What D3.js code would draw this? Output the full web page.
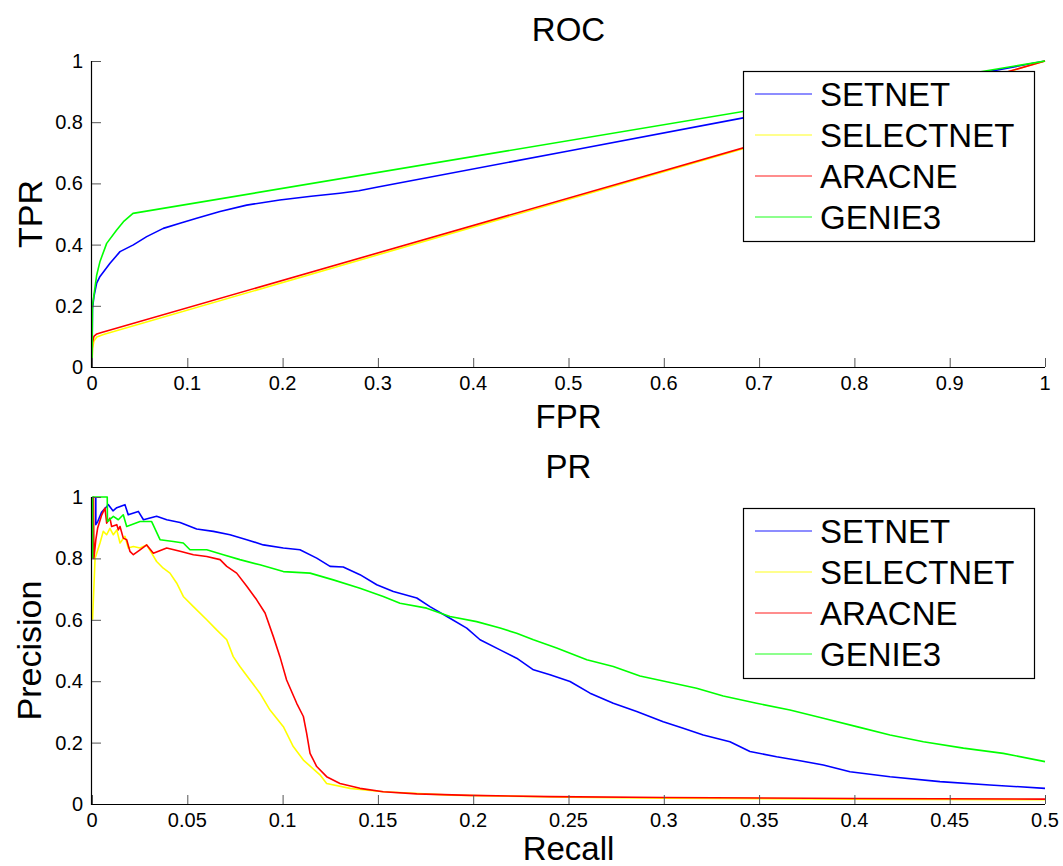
<!DOCTYPE html>
<html>
<head>
<meta charset="utf-8">
<script src="https://cdn.jsdelivr.net/npm/d3@7"></script>
<style>
  html, body { margin: 0; padding: 0; background: #fff; }
  svg { display: block; }
  text { font-family: "Liberation Sans", Arial, Helvetica, sans-serif; fill: #000; }
</style>
</head>
<body>
<svg id="chart" width="1063" height="866"></svg>
<script>
// ---------------- DATA ----------------
const seriesNames = ["SETNET", "SELECTNET", "ARACNE", "GENIE3"];
const seriesColors = ["#0000ff", "#ffff00", "#ff0000", "#00ff00"];

const rocTicksX = [0, 0.1, 0.2, 0.3, 0.4, 0.5, 0.6, 0.7, 0.8, 0.9, 1];
const rocTicksY = [0, 0.2, 0.4, 0.6, 0.8, 1];
const prTicksX = [0, 0.05, 0.1, 0.15, 0.2, 0.25, 0.3, 0.35, 0.4, 0.45, 0.5];
const prTicksY = [0, 0.2, 0.4, 0.6, 0.8, 1];

// ROC: SETNET
const setnetFPR = [0, 0.0005, 0.002, 0.0049, 0.0084, 0.0189, 0.0294, 0.0434, 0.0574, 0.0748, 0.0923, 0.1098, 0.1343, 0.1623, 0.197, 0.23, 0.26, 0.28, 0.30, 0.5, 0.7, 0.9, 1];
const setnetTPR = [0, 0.19, 0.23, 0.274, 0.296, 0.339, 0.377, 0.399, 0.426, 0.453, 0.47, 0.486, 0.508, 0.529, 0.546, 0.558, 0.568, 0.576, 0.588, 0.706, 0.824, 0.941, 1];
// ROC: SELECTNET
const selectnetFPR = [0, 0.0005, 0.002, 0.005, 0.012, 1];
const selectnetTPR = [0, 0.06, 0.085, 0.098, 0.106, 1];
// ROC: ARACNE
const aracneFPR = [0, 0.0005, 0.002, 0.005, 0.01, 1];
const aracneTPR = [0, 0.08, 0.1, 0.108, 0.113, 1];
// ROC: GENIE3
const genie3FPR = [0, 0.0005, 0.0049, 0.0084, 0.0154, 0.0259, 0.033, 0.043, 1];
const genie3TPR = [0, 0.2, 0.3, 0.345, 0.404, 0.448, 0.475, 0.502, 1];

// PR: SETNET
const setnetRecall = [0.002, 0.002, 0.003, 0.005, 0.0086, 0.011, 0.013, 0.0173, 0.019, 0.0243, 0.027, 0.0339, 0.0392, 0.0462, 0.0549, 0.0637, 0.0724, 0.0812, 0.0899, 0.1004, 0.1091, 0.1179, 0.1249, 0.1318, 0.1406, 0.1494, 0.1581, 0.1704, 0.1773, 0.1878, 0.1966, 0.2036, 0.2141, 0.2228, 0.2316, 0.2403, 0.2508, 0.2613, 0.2735, 0.2858, 0.2997, 0.3102, 0.3207, 0.3347, 0.3452, 0.3592, 0.3715, 0.3837, 0.3977, 0.4187, 0.4449, 0.4711, 0.5];
const setnetPrecision = [1, 0.91, 0.92, 0.95, 0.975, 0.955, 0.965, 0.975, 0.942, 0.953, 0.926, 0.937, 0.926, 0.917, 0.896, 0.888, 0.877, 0.861, 0.844, 0.834, 0.828, 0.801, 0.774, 0.772, 0.747, 0.714, 0.692, 0.671, 0.643, 0.605, 0.573, 0.535, 0.502, 0.475, 0.437, 0.421, 0.399, 0.361, 0.328, 0.301, 0.268, 0.247, 0.225, 0.203, 0.171, 0.154, 0.141, 0.127, 0.105, 0.089, 0.073, 0.062, 0.051];
// PR: SELECTNET
const selectnetRecall = [0.0003, 0.0016, 0.0042, 0.0059, 0.0077, 0.0094, 0.0112, 0.013, 0.0147, 0.0173, 0.019, 0.0217, 0.0252, 0.0287, 0.0313, 0.0339, 0.0374, 0.0409, 0.0444, 0.0479, 0.0532, 0.0602, 0.0654, 0.0707, 0.0741, 0.0776, 0.0829, 0.0881, 0.0934, 0.1004, 0.1056, 0.1109, 0.1196, 0.1231, 0.1354, 0.1528, 0.1878, 0.25, 0.3, 0.4, 0.5];
const selectnetPrecision = [0.6, 0.8, 0.85, 0.888, 0.877, 0.898, 0.877, 0.893, 0.85, 0.872, 0.834, 0.839, 0.834, 0.844, 0.817, 0.79, 0.768, 0.752, 0.72, 0.676, 0.643, 0.6, 0.567, 0.535, 0.48, 0.448, 0.404, 0.361, 0.306, 0.252, 0.187, 0.143, 0.095, 0.067, 0.051, 0.040, 0.029, 0.022, 0.019, 0.016, 0.014];
// PR: ARACNE
const aracneRecall = [0.0005, 0.0008, 0.001, 0.002, 0.003, 0.005, 0.0068, 0.0077, 0.0094, 0.0103, 0.013, 0.0138, 0.0147, 0.0164, 0.0182, 0.0199, 0.0217, 0.0252, 0.0287, 0.0322, 0.0392, 0.0462, 0.0532, 0.0602, 0.0672, 0.0707, 0.0759, 0.0812, 0.0864, 0.0908, 0.0951, 0.0986, 0.1021, 0.1074, 0.1109, 0.1126, 0.1144, 0.1179, 0.1231, 0.1301, 0.1406, 0.1528, 0.1704, 0.1983, 0.2403, 0.3, 0.4, 0.5];
const aracnePrecision = [0.8, 1, 0.8, 0.86, 0.9, 0.94, 0.964, 0.915, 0.931, 0.904, 0.91, 0.893, 0.904, 0.866, 0.861, 0.823, 0.812, 0.828, 0.844, 0.817, 0.834, 0.823, 0.812, 0.806, 0.796, 0.774, 0.752, 0.709, 0.665, 0.622, 0.546, 0.48, 0.404, 0.328, 0.285, 0.231, 0.165, 0.122, 0.089, 0.067, 0.051, 0.040, 0.033, 0.028, 0.024, 0.021, 0.018, 0.016];
// PR: GENIE3
const genie3Recall = [0.0003, 0.0003, 0.008, 0.0081, 0.0112, 0.0138, 0.0164, 0.0182, 0.0252, 0.0313, 0.0357, 0.0427, 0.0479, 0.0514, 0.0602, 0.0689, 0.0776, 0.0881, 0.1004, 0.1144, 0.1266, 0.1406, 0.1528, 0.1616, 0.1756, 0.1878, 0.2018, 0.2141, 0.2228, 0.2316, 0.2438, 0.2596, 0.2735, 0.2875, 0.3033, 0.3172, 0.3312, 0.3487, 0.3662, 0.3837, 0.4012, 0.4187, 0.4362, 0.4572, 0.4781, 0.5];
const genie3Precision = [0.8, 1, 1, 0.92, 0.937, 0.926, 0.942, 0.904, 0.92, 0.92, 0.861, 0.855, 0.85, 0.828, 0.828, 0.812, 0.796, 0.779, 0.757, 0.752, 0.730, 0.703, 0.676, 0.654, 0.638, 0.611, 0.594, 0.573, 0.556, 0.535, 0.508, 0.47, 0.448, 0.417, 0.396, 0.377, 0.352, 0.328, 0.306, 0.279, 0.252, 0.225, 0.203, 0.182, 0.165, 0.138];

// ---------------- DRAW ----------------
const svg = d3.select("#chart");

function zip(xs, ys) { return xs.map((x, i) => [x, ys[i]]); }

function drawPanel(opts) {
  const { left, right, top, bottom, xDomain, xTicks, yTicks, title, titleY, xLabel, xLabelY, yLabel, yLabelX, series, legend } = opts;
  const x = d3.scaleLinear().domain(xDomain).range([left, right]);
  const y = d3.scaleLinear().domain([0, 1]).range([bottom, top]);
  const g = svg.append("g");

  // curves
  const line = d3.line().x(d => x(d[0])).y(d => y(d[1]));
  series.forEach((s, i) => {
    g.append("path")
      .attr("d", line(s))
      .attr("fill", "none")
      .attr("stroke", seriesColors[i])
      .attr("stroke-width", 1.6)
      .attr("stroke-linejoin", "round");
  });

  // axes (ticks pointing inward)
  const xAxis = d3.axisTop(x).tickValues(xTicks).tickSize(9).tickFormat("");
  const yAxis = d3.axisRight(y).tickValues(yTicks).tickSize(9).tickFormat("");
  const gx = g.append("g").attr("transform", `translate(0,${bottom})`).call(xAxis);
  const gy = g.append("g").attr("transform", `translate(${left},0)`).call(yAxis);
  [gx, gy].forEach(a => {
    a.select(".domain").remove();
    a.selectAll(".tick line").attr("stroke", "#555").attr("stroke-width", 1);
  });
  g.append("line").attr("x1", left).attr("x2", right).attr("y1", bottom + 0.5).attr("y2", bottom + 0.5).attr("stroke", "#000").attr("stroke-width", 1.2);
  g.append("line").attr("x1", left - 0.5).attr("x2", left - 0.5).attr("y1", top).attr("y2", bottom + 1).attr("stroke", "#000").attr("stroke-width", 1.2);

  const fmt = v => String(+v.toFixed(2));
  // tick labels
  g.selectAll(".xl").data(xTicks).enter().append("text")
    .attr("x", d => x(d)).attr("y", bottom + 23)
    .attr("text-anchor", "middle").attr("font-size", 20).text(fmt);
  g.selectAll(".yl").data(yTicks).enter().append("text")
    .attr("x", left - 9).attr("y", d => y(d) + 7)
    .attr("text-anchor", "end").attr("font-size", 20).text(fmt);

  // title & labels
  g.append("text").attr("x", (left + right) / 2).attr("y", titleY)
    .attr("text-anchor", "middle").attr("font-size", 33).text(title);
  g.append("text").attr("x", (left + right) / 2).attr("y", xLabelY)
    .attr("text-anchor", "middle").attr("font-size", 33).text(xLabel);
  g.append("text").attr("transform", `translate(${yLabelX},${(top + bottom) / 2}) rotate(-90)`)
    .attr("text-anchor", "middle").attr("font-size", 34).text(yLabel);

  // legend
  const lg = g.append("g");
  lg.append("rect").attr("x", legend.x + 0.5).attr("y", legend.y + 0.5)
    .attr("width", legend.w).attr("height", legend.h)
    .attr("fill", "#fff").attr("stroke", "#000").attr("stroke-width", 1.2);
  seriesNames.forEach((name, i) => {
    const cy = legend.y + 23 + i * 41;
    lg.append("line").attr("x1", legend.x + 12).attr("x2", legend.x + 69)
      .attr("y1", cy).attr("y2", cy)
      .attr("stroke", seriesColors[i]).attr("stroke-width", 1.6).attr("stroke-opacity", 0.6);
    lg.append("text").attr("x", legend.x + 77).attr("y", cy + 12)
      .attr("font-size", 33).text(name);
  });
}

drawPanel({
  left: 92, right: 1045, top: 61, bottom: 367,
  xDomain: [0, 1], xTicks: rocTicksX, yTicks: rocTicksY,
  title: "ROC", titleY: 41, xLabel: "FPR", xLabelY: 428, yLabel: "TPR", yLabelX: 42,
  series: [zip(setnetFPR, setnetTPR), zip(selectnetFPR, selectnetTPR), zip(aracneFPR, aracneTPR), zip(genie3FPR, genie3TPR)],
  legend: { x: 743, y: 71, w: 291, h: 170 }
});

drawPanel({
  left: 92, right: 1045, top: 497, bottom: 804,
  xDomain: [0, 0.5], xTicks: prTicksX, yTicks: prTicksY,
  title: "PR", titleY: 478, xLabel: "Recall", xLabelY: 860, yLabel: "Precision", yLabelX: 41,
  series: [zip(setnetRecall, setnetPrecision), zip(selectnetRecall, selectnetPrecision), zip(aracneRecall, aracnePrecision), zip(genie3Recall, genie3Precision)],
  legend: { x: 743, y: 508, w: 291, h: 170 }
});
</script>
</body>
</html>
